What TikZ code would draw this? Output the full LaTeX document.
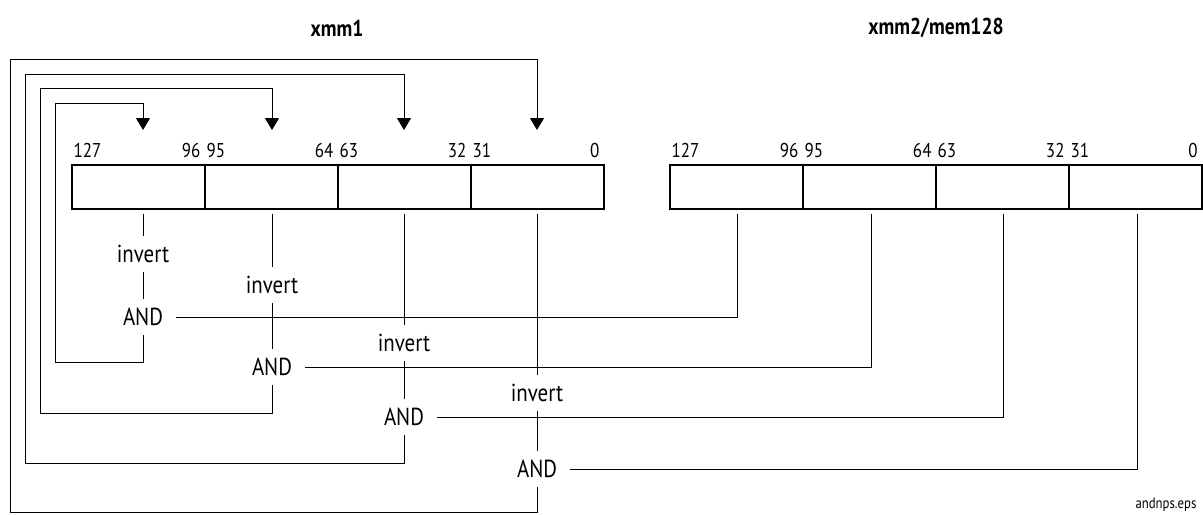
\documentclass[tikz,border=0pt]{standalone}
\usepackage{fontspec}
\setmainfont{PT Sans}[FakeStretch=0.85]
\usetikzlibrary{positioning, arrows.meta}

\begin{document}
\begin{tikzpicture}[x=0.5pt, y=-0.5pt, line width=0.5pt, >={Triangle[length=6pt,width=7pt]}, % one unit = one pixel
    field/.style={draw, line width=1pt, minimum width=66.5pt, minimum height=22pt, inner sep=0pt, outer sep=0pt},
    bits/.style={font=\fontsize{10}{12}\selectfont, inner sep=0pt},
    op/.style={font=\fontsize{12.3}{14}\selectfont, inner xsep=6.5pt, inner ysep=4.5pt},
    title/.style={font=\fontsize{11.5}{13}\selectfont\bfseries}]

    \useasboundingbox (0,0) rectangle (1203,514);

    % 1. Registers: xmm1 and xmm2/mem128, four 32-bit fields each
    \node[title] (xmmA) at (337,28) {xmm1};
    \node[title] (xmmB) at (936,28) {xmm2/mem128};
    \node[field] (a3) at (138.5,187) {};
    \node[field, right=0pt of a3] (a2) {};
    \node[field, right=0pt of a2] (a1) {};
    \node[field, right=0pt of a1] (a0) {};
    \node[field] (b3) at (736.5,187) {};
    \node[field, right=0pt of b3] (b2) {};
    \node[field, right=0pt of b2] (b1) {};
    \node[field, right=0pt of b1] (b0) {};

    % bit numbers above every field
    \foreach \f/\hi/\lo in {a3/127/96, a2/95/64, a1/63/32, a0/31/0, b3/127/96, b2/95/64, b1/63/32, b0/31/0} {
        \node[bits, anchor=base west] (\f-hi) at ([shift={(1,-8)}]\f.north west) {\hi};
        \node[bits, anchor=base east] (\f-lo) at ([shift={(-4,-8)}]\f.north east) {\lo};
    }

    % 2. invert and AND steps under xmm1
    \node[op] (inv3) at (143,254) {invert};
    \node[op] (and3) at (143,317) {AND};
    \node[op] (inv2) at (272,285) {invert};
    \node[op] (and2) at (272,367) {AND};
    \node[op] (inv1) at (404,343) {invert};
    \node[op] (and1) at (404,417) {AND};
    \node[op] (inv0) at (537,393) {invert};
    \node[op] (and0) at (537,469) {AND};
    \node[font=\fontsize{7.5}{8}\selectfont, inner sep=1pt] (fname) at (1166,505) {andnps.eps};

    % free ends: under the fields and above them
    \coordinate (ta3) at (143,214);  \coordinate (ha3) at (143,130);
    \coordinate (ta2) at (272,214);  \coordinate (ha2) at (272,130);
    \coordinate (ta1) at (404,214);  \coordinate (ha1) at (404,130);
    \coordinate (ta0) at (537,214);  \coordinate (ha0) at (537,130);
    \coordinate (tb3) at (737,214);
    \coordinate (tb2) at (871,214);
    \coordinate (tb1) at (1003,214);
    \coordinate (tb0) at (1137,214);

    % 3. xmm1 field -> invert -> AND
    \draw (ta3) -- (inv3);  \draw (inv3) -- (and3);
    \draw (ta2) -- (inv2);  \draw (inv2) -- (and2);
    \draw (ta1) -- (inv1);  \draw (inv1) -- (and1);
    \draw (ta0) -- (inv0);  \draw (inv0) -- (and0);

    % 4. xmm2/mem128 field -> AND
    \draw (tb3) |- (and3);
    \draw (tb2) |- (and2);
    \draw (tb1) |- (and1);
    \draw (tb0) |- (and0);

    % 5. results written back into xmm1
    \draw[->] (and3) |- (55,362) |- (143,103) -- (ha3);
    \draw[->] (and2) |- (40,413) |- (272,88) -- (ha2);
    \draw[->] (and1) |- (25,463) |- (404,74) -- (ha1);
    \draw[->] (and0) |- (10,512) |- (537,59) -- (ha0);
\end{tikzpicture}
\end{document}
